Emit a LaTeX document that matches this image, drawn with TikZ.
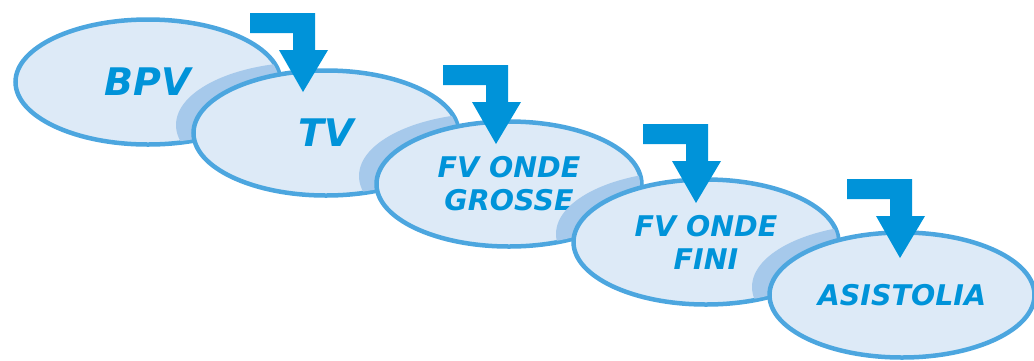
\documentclass[tikz,border=0pt]{standalone}
\usepackage{fontspec}
\setmainfont{DejaVu Sans}
\usepackage{tikz}
\usetikzlibrary{shapes.geometric}
\definecolor{ovalFill}{RGB}{221, 234, 247}
\definecolor{ovalLine}{RGB}{76, 166, 223}
\definecolor{ovalShadow}{RGB}{166, 201, 235}
\definecolor{stepBlue}{RGB}{0, 147, 217}

\newcommand{\bentarrow}[2]{%
  \fill[stepBlue, shift={(#1,#2)}] (0,0) -- (65,0) -- (65,37) -- (78,37) -- (53,79)
    -- (29,37) -- (43,37) -- (43,20) -- (0,20) -- cycle;}
\newcommand{\ovalshade}[2]{%
  \begin{scope}
    \clip (#1.center) ellipse [x radius=131, y radius=61];
    \fill[ovalShadow] ([shift={(-17,-8)}]#2) ellipse [x radius=133, y radius=63];
  \end{scope}}

\begin{document}
\begin{tikzpicture}[x=1pt, y=-1pt,
    oval/.style={ellipse, draw=ovalLine, fill=ovalFill, line width=4.5pt,
      minimum width=265pt, minimum height=125pt, inner sep=0pt,
      text=stepBlue, align=center, font=\bfseries\itshape\fontsize{28.5}{33}\selectfont},
    bigoval/.style={oval, font=\bfseries\itshape\fontsize{38}{44}\selectfont}]
        \useasboundingbox (0,0) rectangle (1034,360);
        \node[bigoval] (bpv) at (148,82) {BPV};
        \ovalshade{bpv}{326,133}
        \node[bigoval] (tv) at (326,133) {TV};
        \ovalshade{tv}{509,184}
        \node[oval] (grosse) at (509,184) {FV ONDE\\GROSSE};
        \ovalshade{grosse}{706,242}
        \node[oval] (fini) at (706,242) {FV ONDE\\FINI};
        \ovalshade{fini}{902,295}
        \node[oval] (asist) at (902,295) {ASISTOLIA};
        % arrows
        \bentarrow{250}{13}
        \bentarrow{443}{65}
        \bentarrow{643}{124}
        \bentarrow{847}{179}
      \end{tikzpicture}
\end{document}
